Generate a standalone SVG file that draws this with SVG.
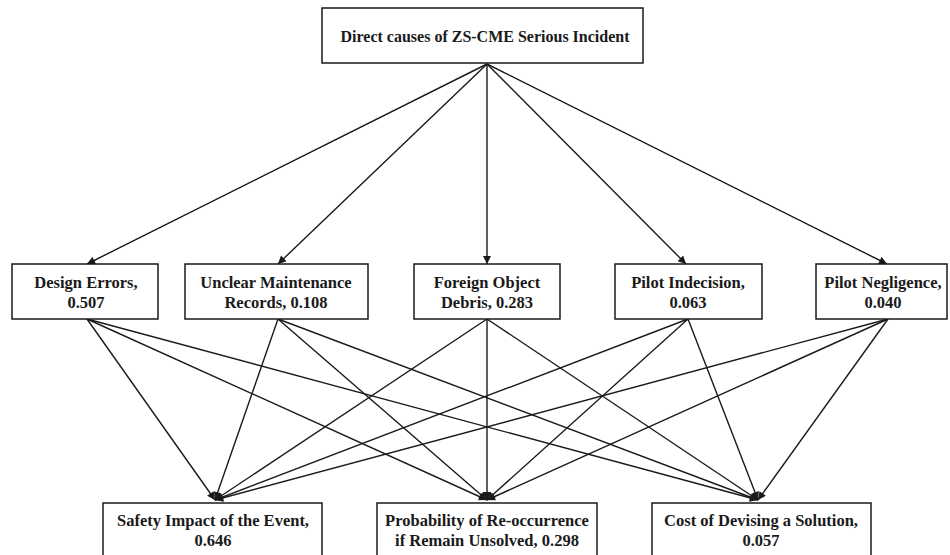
<svg xmlns="http://www.w3.org/2000/svg" width="950" height="555" viewBox="0 0 950 555">
  <style>
    .box { fill: #ffffff; stroke: #1a1a1a; stroke-width: 1.5; }
    .lbl { font-family: "Liberation Serif", "DejaVu Serif", serif; font-weight: bold; font-size: 16.5px; fill: #1a1a1a; text-anchor: middle; }
    .title { font-size: 16px; }
    .edge { stroke: #1a1a1a; stroke-width: 1.4; fill: none; marker-end: url(#arrow); }
  </style>
  <defs>
    <marker id="arrow" viewBox="0 0 10 10" refX="10" refY="5" markerWidth="9" markerHeight="8" markerUnits="userSpaceOnUse" orient="auto">
      <path d="M0,0 L10,5 L0,10 z" fill="#1a1a1a"/>
    </marker>
  </defs>
  <rect width="950" height="555" fill="#ffffff"/>

  <!-- connectors -->
  <g id="connectors">
    <!-- goal to criteria -->
    <line class="edge" x1="487" y1="64" x2="87" y2="264"/>
    <line class="edge" x1="487" y1="64" x2="278" y2="264"/>
    <line class="edge" x1="487" y1="64" x2="487" y2="264"/>
    <line class="edge" x1="487" y1="64" x2="686" y2="264"/>
    <line class="edge" x1="487" y1="64" x2="887" y2="264"/>
    <!-- criteria to alternatives -->
    <line class="edge" x1="87" y1="319" x2="215" y2="500"/>
    <line class="edge" x1="87" y1="319" x2="487" y2="500"/>
    <line class="edge" x1="87" y1="319" x2="758" y2="500"/>
    <line class="edge" x1="278" y1="319" x2="215" y2="500"/>
    <line class="edge" x1="278" y1="319" x2="487" y2="500"/>
    <line class="edge" x1="278" y1="319" x2="758" y2="500"/>
    <line class="edge" x1="487" y1="319" x2="215" y2="500"/>
    <line class="edge" x1="487" y1="319" x2="487" y2="500"/>
    <line class="edge" x1="487" y1="319" x2="758" y2="500"/>
    <line class="edge" x1="688" y1="319" x2="215" y2="500"/>
    <line class="edge" x1="688" y1="319" x2="487" y2="500"/>
    <line class="edge" x1="688" y1="319" x2="758" y2="500"/>
    <line class="edge" x1="888" y1="319" x2="215" y2="500"/>
    <line class="edge" x1="888" y1="319" x2="487" y2="500"/>
    <line class="edge" x1="888" y1="319" x2="758" y2="500"/>
  </g>

  <g id="goal">
    <rect class="box" x="322" y="8" width="321" height="55"/>
    <text class="lbl title" x="485" y="42">Direct causes of ZS-CME Serious Incident</text>
  </g>

  <g id="design-errors">
    <rect class="box" x="12" y="264" width="146" height="55"/>
    <text class="lbl" x="86" y="288">Design Errors,</text>
    <text class="lbl" x="86" y="308">0.507</text>
  </g>
  <g id="maintenance-records">
    <rect class="box" x="185" y="264" width="183" height="55"/>
    <text class="lbl" x="276" y="288">Unclear Maintenance</text>
    <text class="lbl" x="276" y="308">Records, 0.108</text>
  </g>
  <g id="foreign-object">
    <rect class="box" x="414" y="264" width="146" height="55"/>
    <text class="lbl" x="487" y="288">Foreign Object</text>
    <text class="lbl" x="487" y="308">Debris, 0.283</text>
  </g>
  <g id="pilot-indecision">
    <rect class="box" x="615" y="264" width="147" height="55"/>
    <text class="lbl" x="688" y="288">Pilot Indecision,</text>
    <text class="lbl" x="688" y="308">0.063</text>
  </g>
  <g id="pilot-negligence">
    <rect class="box" x="816" y="264" width="131" height="55"/>
    <text class="lbl" x="883" y="288">Pilot Negligence,</text>
    <text class="lbl" x="883" y="308">0.040</text>
  </g>

  <g id="safety-impact">
    <rect class="box" x="103" y="503" width="219" height="60"/>
    <text class="lbl" x="213" y="526">Safety Impact of the Event,</text>
    <text class="lbl" x="213" y="546">0.646</text>
  </g>
  <g id="reoccurrence">
    <rect class="box" x="377" y="503" width="220" height="60"/>
    <text class="lbl" x="487" y="526">Probability of Re-occurrence</text>
    <text class="lbl" x="487" y="546">if Remain Unsolved, 0.298</text>
  </g>
  <g id="solution-cost">
    <rect class="box" x="652" y="503" width="219" height="60"/>
    <text class="lbl" x="761" y="526">Cost of Devising a Solution,</text>
    <text class="lbl" x="761" y="546">0.057</text>
  </g>
</svg>
